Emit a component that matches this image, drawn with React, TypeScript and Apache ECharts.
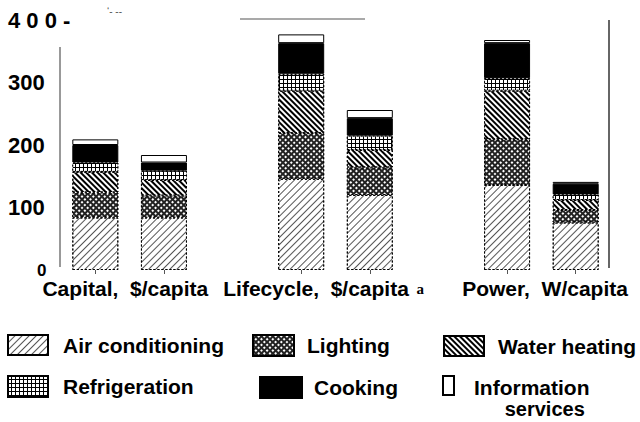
import React, { useEffect, useRef } from "react";
import * as echarts from "echarts";

const categories = ["Capital-1", "Capital-2", "gap-1", "Lifecycle-1", "Lifecycle-2", "gap-2", "Power-1", "Power-2"];
const groupLabels = ["Capital,  $/capita", "Lifecycle,  $/capita", "Power,  W/capita"];
const seriesNames = ["Air conditioning", "Lighting", "Water heating", "Refrigeration", "Cooking", "Information services"];
const airConditioning = [84, 84, null, 146, 120, null, 136, 76];
const lighting = [40, 35, null, 73, 44, null, 73, 20];
const waterHeating = [33, 25, null, 68, 28, null, 78, 16];
const refrigeration = [15, 15, null, 27, 23, null, 20, 9];
const cooking = [28, 13, null, 49, 28, null, 56, 17];
const informationServices = [9, 12, null, 14, 13, null, 5, 3];
const yMin = 0;
const yMax = 400;
const yStep = 100;

const FONT = "Liberation Sans, Arial, sans-serif";

export default function App() {
  const ref = useRef<HTMLDivElement>(null);
  useEffect(() => {
    if (!ref.current) return;
    const chart = echarts.init(ref.current, null, { renderer: "svg" });
    const dashed = { borderColor: "#000", borderWidth: 1, borderType: [2, 2] as any };
    const styles: any[] = [
      {
        color: "#fff",
        ...dashed,
        decal: { symbol: "rect", symbolSize: 1, color: "#555", dashArrayX: [1, 0], dashArrayY: [0.8, 3.4], rotation: -Math.PI / 4 },
      },
      {
        color: "#222",
        ...dashed,
        decal: { symbol: "rect", symbolSize: 1, color: "#fff", dashArrayX: [1.1, 1.5], dashArrayY: [1.1, 1.5], rotation: Math.PI / 4 },
      },
      {
        color: "#fff",
        ...dashed,
        decal: { symbol: "rect", symbolSize: 1, color: "#000", dashArrayX: [1, 0], dashArrayY: [1.4, 1.6], rotation: Math.PI / 4 },
      },
      {
        color: "#000",
        ...dashed,
        decal: { symbol: "rect", symbolSize: 1, color: "#fff", dashArrayX: [2.6, 0.9], dashArrayY: [2.6, 0.9], rotation: 0 },
      },
      { color: "#000", borderColor: "#000", borderWidth: 1 },
      { color: "#fff", borderColor: "#000", borderWidth: 1 },
    ];
    const dataSets = [airConditioning, lighting, waterHeating, refrigeration, cooking, informationServices];
    const series = seriesNames.map((name, i) => ({
      name,
      type: "bar",
      stack: "total",
      barWidth: 46,
      data: dataSets[i],
      itemStyle: styles[i],
      emphasis: { disabled: true },
    }));

    const legendPos = [
      { left: 7, top: 334, w: 40, h: 20, gap: 15 },
      { left: 252, top: 334, w: 41, h: 21, gap: 13 },
      { left: 443, top: 335, w: 40, h: 20, gap: 14 },
      { left: 7, top: 375, w: 40, h: 21, gap: 15 },
      { left: 259, top: 376, w: 42, h: 21, gap: 12 },
      { left: 442, top: 375, w: 11, h: 19, gap: 20 },
    ];
    const legends = seriesNames.map((name, i) => {
      const p = legendPos[i];
      const isInfo = i === 5;
      return {
        data: [name],
        left: p.left,
        top: p.top,
        padding: 0,
        itemWidth: p.w,
        itemHeight: p.h,
        icon: "rect",
        selectedMode: false,
        formatter: isInfo ? "{a|Information}\n{b|services}" : undefined,
        textStyle: {
          fontFamily: FONT,
          fontWeight: "bold",
          fontSize: 21,
          color: "#000",
          padding: isInfo ? [24, 0, 0, p.gap - 5] : [0, 0, 0, p.gap - 5],
          rich: isInfo
            ? {
                a: { fontFamily: FONT, fontWeight: "bold", fontSize: 21, color: "#000", lineHeight: 22 },
                b: { fontFamily: FONT, fontWeight: "bold", fontSize: 20, color: "#000", lineHeight: 20, align: "center", padding: [0, 0, 0, 26] },
              }
            : undefined,
        },
      };
    });

    chart.setOption({
      animation: false,
      backgroundColor: "#fff",
      grid: { left: 61, right: 30, top: 20, bottom: 152 },
      legend: legends,
      xAxis: {
        type: "category",
        data: categories,
        axisLine: { show: false },
        axisTick: {
          show: true,
          alignWithLabel: true,
          length: 4,
          lineStyle: { color: "#555" },
          interval: (index: number) => !categories[index].startsWith("gap"),
        },
        axisLabel: {
          interval: 0,
          margin: 8,
          formatter: (_v: string, index: number) => {
            if (index === 0) return "{c|" + groupLabels[0] + "}";
            if (index === 3) return "{l|" + groupLabels[1] + "}{s| a}";
            if (index === 6) return "{p|" + groupLabels[2] + "}";
            return "";
          },
          rich: {
            c: { fontFamily: FONT, fontWeight: "bold", fontSize: 21, color: "#000", padding: [0, 0, 0, 60] },
            l: { fontFamily: FONT, fontWeight: "bold", fontSize: 21, color: "#000", padding: [0, 0, 0, 45] },
            s: { fontFamily: "Liberation Serif, serif", fontWeight: "bold", fontSize: 15, color: "#000", padding: [0, 0, 0, 4] },
            p: { fontFamily: FONT, fontWeight: "bold", fontSize: 21, color: "#000", padding: [0, 0, 0, 76] },
          },
        },
      },
      yAxis: {
        type: "value",
        min: yMin,
        max: yMax,
        interval: yStep,
        axisLine: { show: false },
        axisTick: { show: false },
        splitLine: { show: false },
        axisLabel: {
          align: "left",
          margin: 53,
          formatter: (v: number) => (v === 400 ? "{t|4 0 0 -}" : v === 0 ? "{z|0}" : "{n|" + v + "}"),
          rich: {
            t: { fontFamily: FONT, fontWeight: "bold", fontSize: 22, color: "#000" },
            z: { fontFamily: FONT, fontWeight: "bold", fontSize: 17, color: "#000", padding: [0, 0, 0, 29] },
            n: { fontFamily: FONT, fontWeight: "bold", fontSize: 22, color: "#000" },
          },
        },
      },
      graphic: [
        { type: "line", shape: { x1: 60, y1: 47, x2: 60, y2: 267 }, style: { stroke: "#777", lineWidth: 1.5 } },
        { type: "line", shape: { x1: 240, y1: 19, x2: 365, y2: 19 }, style: { stroke: "#555", lineWidth: 1.2 } },
        { type: "line", shape: { x1: 609, y1: 20, x2: 609, y2: 268 }, style: { stroke: "#333", lineWidth: 1.5 } },
        { type: "text", x: 107, y: 6, style: { text: "‘- --", fontSize: 10, fill: "#555", fontFamily: FONT } },
      ],
      series,
    });
    return () => chart.dispose();
  }, []);
  return <div ref={ref} style={{ width: 640, height: 422, position: "absolute", left: 0, top: 0 }} />;
}
